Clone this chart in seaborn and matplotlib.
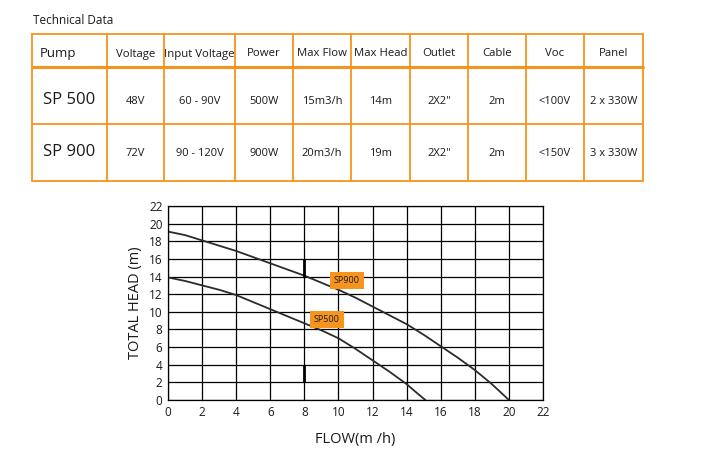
import numpy as np
import pandas as pd
import matplotlib.pyplot as plt
import seaborn as sns

# --- data ---
columns = ['Pump', 'Voltage', 'Input Voltage', 'Power', 'Max Flow', 'Max Head',
           'Outlet', 'Cable', 'Voc', 'Panel']
row_sp500 = ['SP 500', '48V', '60 - 90V', '500W', '15m3/h', '14m', '2X2"', '2m', '<100V', '2 x 330W']
row_sp900 = ['SP 900', '72V', '90 - 120V', '900W', '20m3/h', '19m', '2X2"', '2m', '<150V', '3 x 330W']

flow_sp900 = [0, 1, 2, 3, 4, 5, 6, 7, 8, 9, 10, 11, 12, 13, 14, 15, 16, 17, 18, 19, 20]
head_sp900 = [19.1, 18.7, 18.1, 17.5, 16.9, 16.2, 15.5, 14.8, 14.1, 13.3, 12.5, 11.6,
              10.6, 9.6, 8.6, 7.4, 6.1, 4.8, 3.4, 1.8, 0.0]
flow_sp500 = [0, 1, 2, 3, 4, 5, 6, 7, 8, 9, 10, 11, 12, 13, 14, 14.6, 15.1]
head_sp500 = [13.9, 13.5, 13.0, 12.5, 11.9, 11.1, 10.3, 9.5, 8.7, 7.9, 7.0, 5.8,
              4.5, 3.2, 1.8, 0.8, 0.0]

curves = pd.concat([
    pd.DataFrame({'flow': flow_sp900, 'head': head_sp900, 'pump': 'SP900'}),
    pd.DataFrame({'flow': flow_sp500, 'head': head_sp500, 'pump': 'SP500'}),
])

ORANGE = '#F7941D'
TXT = '#1a1a1a'
W, H = 712, 455

sns.set_style('white')
plt.rcParams['font.family'] = ['Open Sans', 'DejaVu Sans']

fig = plt.figure(figsize=(W / 100, H / 100), dpi=100)

# --- table drawn in pixel coordinates ---
tab = fig.add_axes([0, 0, 1, 1])
tab.set_xlim(0, W)
tab.set_ylim(H, 0)
tab.axis('off')

col_edges = [32, 107, 164, 235, 293, 351, 410, 468, 526, 584, 643]
row_edges = [34, 67, 124, 181]

tab.text(33, 21, 'Technical Data', fontsize=8.5, va='center', ha='left', color=TXT)
for x in col_edges:
    tab.plot([x, x], [row_edges[0], row_edges[-1]], color=ORANGE, lw=1.3)
for i, y in enumerate(row_edges):
    tab.plot([col_edges[0], col_edges[-1]], [y, y], color=ORANGE, lw=2.2 if i == 1 else 1.3)

for j, name in enumerate(columns):
    cx = (col_edges[j] + col_edges[j + 1]) / 2
    if j == 0:
        tab.text(col_edges[0] + 8, 53, name, fontsize=9.5, ha='left', va='center', color=TXT)
    else:
        tab.text(cx, 54, name, fontsize=8.2, ha='center', va='center', color=TXT)

for row, yc in [(row_sp500, 102), (row_sp900, 154)]:
    for j, val in enumerate(row):
        cx = (col_edges[j] + col_edges[j + 1]) / 2
        if j == 0:
            tab.text(cx, yc - 2, val, fontsize=12, ha='center', va='center', color=TXT)
        else:
            tab.text(cx, yc, val, fontsize=8, ha='center', va='center', color=TXT)

# --- pump curve chart ---
ax = fig.add_axes([168 / W, 1 - 400 / H, (543 - 168) / W, (400 - 206) / H])
sns.lineplot(data=curves, x='flow', y='head', hue='pump',
             palette={'SP900': '#2b2b2b', 'SP500': '#2b2b2b'},
             legend=False, ax=ax, lw=1.3, sort=False)

ax.set_xlim(0, 22)
ax.set_ylim(0, 22)
ax.set_xticks(range(0, 23, 2))
ax.set_yticks(range(0, 23, 2))
ax.grid(True, color='black', lw=0.9)
for s in ax.spines.values():
    s.set_color('black')
    s.set_linewidth(0.9)
ax.tick_params(axis='both', length=0, labelsize=8.5, colors=TXT, pad=4)
ax.set_xlabel('FLOW(m /h)', fontsize=10.5, labelpad=10, color=TXT)
ax.set_ylabel('TOTAL HEAD (m)', fontsize=10.5, labelpad=4, color=TXT)

# thick marker segments at flow = 8
ax.vlines([8, 8], [14, 2], [16, 4], color='black', lw=2)

# curve labels
for name, (lx, ly) in {'SP900': (10.5, 13.6), 'SP500': (9.3, 9.1)}.items():
    ax.text(lx, ly, name, fontsize=6.5, ha='center', va='center', color=TXT,
            bbox=dict(boxstyle='square,pad=0.45', fc=ORANGE, ec='none'))

fig.savefig('out.png', dpi=100)
